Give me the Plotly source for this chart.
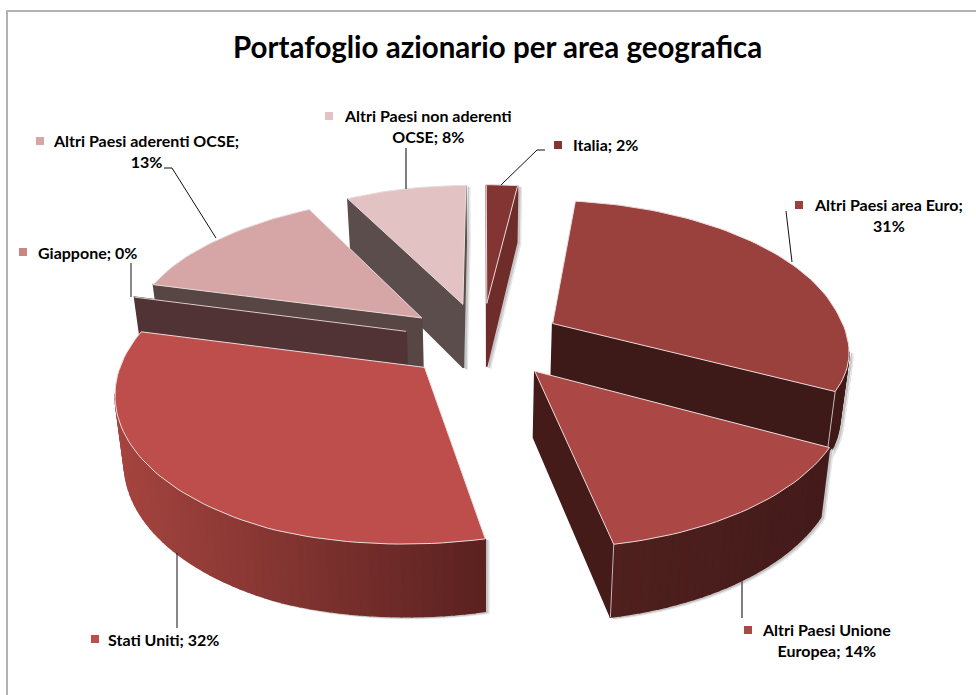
import math
import plotly.graph_objects as go

# --- data ---
categories = ["Italia", "Altri Paesi area Euro", "Altri Paesi Unione Europea", "Stati Uniti",
              "Giappone", "Altri Paesi aderenti OCSE", "Altri Paesi non aderenti OCSE"]
values = [2, 31, 14, 32, 0, 13, 8]
label_texts = ["Italia; 2%", "Altri Paesi area Euro;<br>31%", "Altri Paesi Unione<br>Europea; 14%",
               "Stati Uniti; 32%", "Giappone; 0%", "Altri Paesi aderenti OCSE;<br>13%",
               "Altri Paesi non aderenti<br>OCSE; 8%"]
top_colors = ["#823532", "#9a403d", "#ab4744", "#bd4e4b", "#cc8583", "#d6a5a5", "#e2c2c2"]
radial_colors = ["#6e2c2a", "#3d1a17", "#451b1a", "#5a2220", "#523335", "#574644", "#5a4d4c"]
rim_left = ["#6e2c2a", "#3f1a18", "#4f201d", "#a5443f", "#523335", "#574644", "#5a4d4c"]
rim_right = ["#6e2c2a", "#3f1a18", "#431b1a", "#5a2220", "#523335", "#574644", "#5a4d4c"]
draw_order = [6, 5, 4, 3, 0, 1, 2]
pulls = [0.27, 0.27, 0.27, 0.27, 0.27, 0.265, 0.27]
no_shadow = {4, 5}

# --- projection of the tilted pie ---
CX, CY = 482, 341
A, B, P = 295, 145, 0.14
DEPTH = 65


def clip01(t):
    return min(1.0, max(0.0, t))


def project(u, v):
    w = 1 - P * v
    x, y = CX + A * u / w, CY + B * v / w
    # slight skew of the view, towards the front right and the far left
    f = clip01((u + 0.6) / 0.8)
    x += 9 * clip01((v + 0.2) / 0.8) * f
    y -= 6 * clip01(v / 0.5) * f
    x += 6 * clip01(-u / 0.6) * clip01(-(v + 0.6) / 0.5)
    return x, y


def slice_points(start, end, pull):
    mid = (start + end) / 2
    du, dv = pull * math.sin(mid), -pull * math.cos(mid)
    n = max(2, int((end - start) / 0.03) + 2)
    pts = [(du, dv)]
    for i in range(n):
        t = start + (end - start) * i / (n - 1)
        pts.append((du + math.sin(t), dv - math.cos(t)))
    return pts


def lower(uv):
    x, y = project(*uv)
    return CX + (x - CX) * 0.975, y + DEPTH * (1 + 0.1 * uv[1])


def hex_mix(c1, c2, t):
    a = [int(c1[i:i + 2], 16) for i in (1, 3, 5)]
    b = [int(c2[i:i + 2], 16) for i in (1, 3, 5)]
    return "rgb(%d,%d,%d)" % tuple(round(p + (q - p) * t) for p, q in zip(a, b))


fig = go.Figure()


def poly(xs, ys, fill, line="rgba(0,0,0,0)", lw=0):
    fig.add_trace(go.Scatter(x=xs + xs[:1], y=ys + ys[:1], mode="lines", fill="toself", fillcolor=fill,
                             line=dict(color=line, width=lw), hoverinfo="skip", showlegend=False))


total = sum(values)
edges = [0]
for val in values:
    edges.append(edges[-1] + val / total * 2 * math.pi)

# frame
fig.add_trace(go.Scatter(x=[7, 7, 976], y=[695, 11, 11], mode="lines", line=dict(color="#b2b2b2", width=2),
                         hoverinfo="skip", showlegend=False))

for idx in draw_order:
    uv = slice_points(edges[idx], edges[idx + 1], pulls[idx])
    if values[idx] == 0:
        uv = uv[:2]
    ring = uv + uv[:1]
    quads = []
    for j in range(len(ring) - 1):
        a, b = ring[j], ring[j + 1]
        xa, ya = project(*a)
        xb, yb = project(*b)
        if xb < xa - 1e-6:
            radial = j == 0 or j == len(ring) - 2
            quads.append((a, b, radial))
    if not quads:
        continue
    xmin = min(project(*q[0])[0] for q in quads)
    xmax = max(project(*q[0])[0] for q in quads)
    # soft shadow under the visible walls
    if idx not in no_shadow:
        for off, shade in ((4, "#e6e6e6"), (2.5, "#c6c6c6")):
            for a, b, radial in quads:
                la, lb = lower(a), lower(b)
                pa, pb = project(*a), project(*b)
                poly([pa[0] + off, pb[0] + off, lb[0] + off, la[0] + off],
                     [pa[1] + off / 2, pb[1] + off / 2, lb[1] + off / 2, la[1] + off / 2], shade, line=shade, lw=1)
    # walls
    for a, b, radial in quads:
        la, lb = lower(a), lower(b)
        pa, pb = project(*a), project(*b)
        if radial:
            col = radial_colors[idx]
        else:
            t = ((pa[0] + pb[0]) / 2 - xmin) / max(1, xmax - xmin)
            col = hex_mix(rim_left[idx], rim_right[idx], t)
        poly([pa[0], pb[0], lb[0], la[0]], [pa[1], pb[1], lb[1], la[1]], col, line=col, lw=1.5)
    # vertical light edges between the radial and the outer wall
    corners = []
    for q0, q1 in zip(quads, quads[1:]):
        if q0[2] != q1[2]:
            corners.append(q0[1])
    for c in corners:
        top, bot = project(*c), lower(c)
        fig.add_trace(go.Scatter(x=[top[0], bot[0]], y=[top[1], bot[1]], mode="lines",
                                 line=dict(color="#c9b8b8", width=1), hoverinfo="skip", showlegend=False))
    # top face
    pts = [project(*p) for p in uv]
    if values[idx] > 0:
        poly([p[0] for p in pts], [p[1] for p in pts], top_colors[idx], line="#eadcdc", lw=1)
    else:
        fig.add_trace(go.Scatter(x=[p[0] for p in pts], y=[p[1] for p in pts], mode="lines",
                                 line=dict(color="#dccfcf", width=1), hoverinfo="skip", showlegend=False))

# leader lines
leaders = [
    ([406, 406], [148, 189], "#555555", 1.5),
    ([164, 172, 216], [168, 168, 238], "#111111", 1),
    ([131, 131], [263, 297], "#111111", 1),
    ([545, 537, 501], [150, 150, 185], "#111111", 1),
    ([786, 792], [211, 262], "#111111", 1),
    ([742, 742], [581, 618], "#555555", 1.5),
    ([177, 177], [553, 628], "#111111", 1),
]
for xs, ys, col, w in leaders:
    fig.add_trace(go.Scatter(x=xs, y=ys, mode="lines", line=dict(color=col, width=w),
                             hoverinfo="skip", showlegend=False))

# label keys and text
key_x = [558, 799, 748, 95, 23, 40, 329]
key_y = [145, 205, 630, 639, 252, 141, 116]
text_x = [605, 888, 826, 163, 87, 146, 428]
text_y = [144, 215, 640, 639, 252, 151, 126]
fig.add_trace(go.Scatter(x=key_x, y=key_y, mode="markers",
                         marker=dict(symbol="square", size=8, color=top_colors), hoverinfo="skip", showlegend=False))
for tx, ty, s in zip(text_x, text_y, label_texts):
    fig.add_annotation(x=tx, y=ty, text="<b>%s</b>" % s, showarrow=False, align="center",
                       xanchor="center", yanchor="middle",
                       font=dict(family="Lato", size=16, color="#000000"))

fig.add_annotation(x=497, y=46, text="<b>Portafoglio azionario per area geografica</b>", showarrow=False,
                   xanchor="center", yanchor="middle", font=dict(family="Lato", size=29.5, color="#000000"))

fig.update_xaxes(visible=False, range=[0, 976], fixedrange=True)
fig.update_yaxes(visible=False, range=[695, 0], fixedrange=True)
fig.update_layout(width=976, height=695, margin=dict(l=0, r=0, t=0, b=0), plot_bgcolor="white",
                  paper_bgcolor="white", showlegend=False)
fig.write_html("out.html", post_script="document.body.style.margin='0';document.body.style.overflow='hidden';",
               config={"displayModeBar": False})
